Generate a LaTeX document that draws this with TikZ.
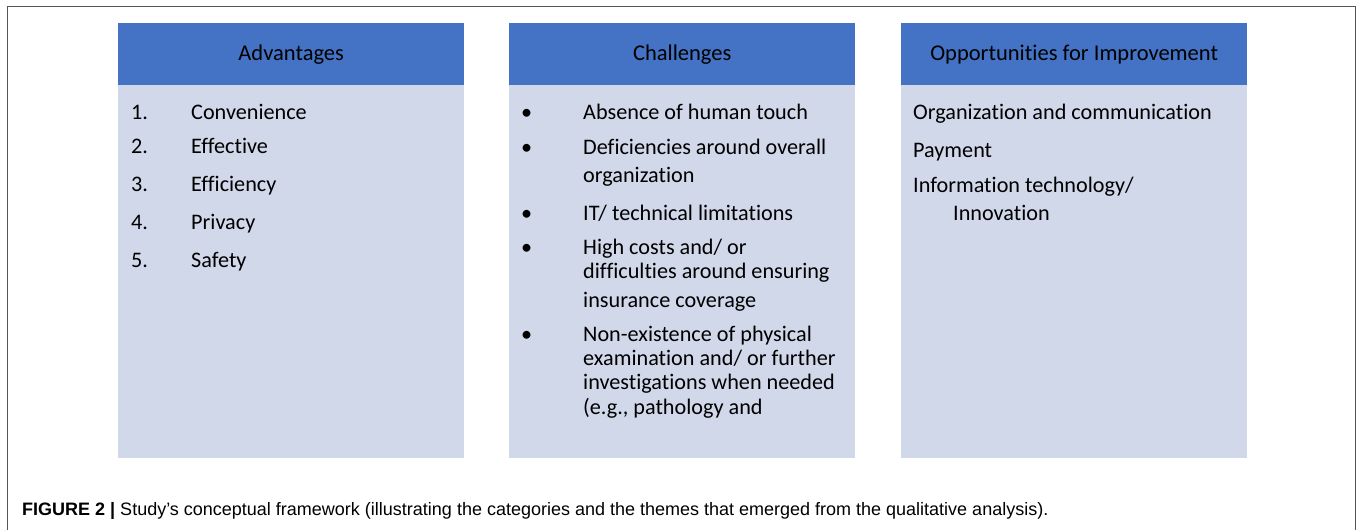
\documentclass[tikz,border=0pt]{standalone}
\usepackage{fontspec}
\setmainfont[Ligatures=NoCommon]{Carlito}
\newfontfamily\capfont{Liberation Sans}
\definecolor{headblue}{HTML}{4472C4}
\definecolor{bodyblue}{HTML}{D0D8EA}
\definecolor{framegray}{HTML}{555555}

\begin{document}
\begin{tikzpicture}[x=1pt,y=-1pt,
    head/.style={fill=headblue,minimum width=346pt,minimum height=62pt,anchor=north west,inner sep=0pt,font=\fontsize{22.5}{27}\selectfont},
    body/.style={fill=bodyblue,minimum width=346pt,minimum height=373pt,anchor=north west,inner sep=0pt},
    item/.style={anchor=base west,inner sep=0pt,font=\fontsize{22.2}{27}\selectfont}]
    \useasboundingbox (0,0) rectangle (1358,530);
    \draw[framegray,line width=1pt] (7,531)--(7,6)--(1355,6)--(1355,531);
    % column boxes
    \node[head] (advhead) at (118,23) {Advantages};
    \node[body] (advbody) at (118,85) {};
    \node[head] (chahead) at (509,23) {Challenges};
    \node[body] (chabody) at (509,85) {};
    \node[head] (opphead) at (901,23) {Opportunities for Improvement};
    \node[body] (oppbody) at (901,85) {};
    % advantages
    \node[item] (n1) at (131,119) {1.};  \node[item] (a1) at (191,119) {Convenience};
    \node[item] (n2) at (131,153) {2.};  \node[item] (a2) at (191,153) {Effective};
    \node[item] (n3) at (131,191) {3.};  \node[item] (a3) at (191,191) {Efficiency};
    \node[item] (n4) at (131,229) {4.};  \node[item] (a4) at (191,229) {Privacy};
    \node[item] (n5) at (131,267) {5.};  \node[item] (a5) at (191,267) {Safety};
    % challenges
    \node[item] (b1) at (521,119) {•}; \node[item] (c1) at (583,119) {Absence of human touch};
    \node[item] (b2) at (521,154) {•}; \node[item] (c2) at (583,154) {Deficiencies around overall};
    \node[item] (c2b) at (583,182) {organization};
    \node[item] (b3) at (521,220) {•}; \node[item] (c3) at (583,220) {IT/ technical limitations};
    \node[item] (b4) at (521,254) {•}; \node[item] (c4) at (583,254) {High costs and/ or};
    \node[item] (c4b) at (583,278) {difficulties around ensuring};
    \node[item] (c4c) at (583,307) {insurance coverage};
    \node[item] (b5) at (521,341) {•}; \node[item] (c5) at (583,341) {Non-existence of physical};
    \node[item] (c5b) at (583,365) {examination and/ or further};
    \node[item] (c5c) at (583,389) {investigations when needed};
    \node[item] (c5d) at (583,414) {(e.g., pathology and};
    % opportunities
    \node[item] (o1) at (913,119) {Organization and communication};
    \node[item] (o2) at (913,157) {Payment};
    \node[item] (o3) at (913,192) {Information technology/};
    \node[item] (o3b) at (953,220) {Innovation};
    % caption
    \node[anchor=base west,inner sep=0pt,font=\capfont\fontsize{18}{22}\selectfont] (caption) at (22,515)
        {\textbf{FIGURE 2 |} Study’s conceptual framework (illustrating the categories and the themes that emerged from the qualitative analysis).};
\end{tikzpicture}
\end{document}
